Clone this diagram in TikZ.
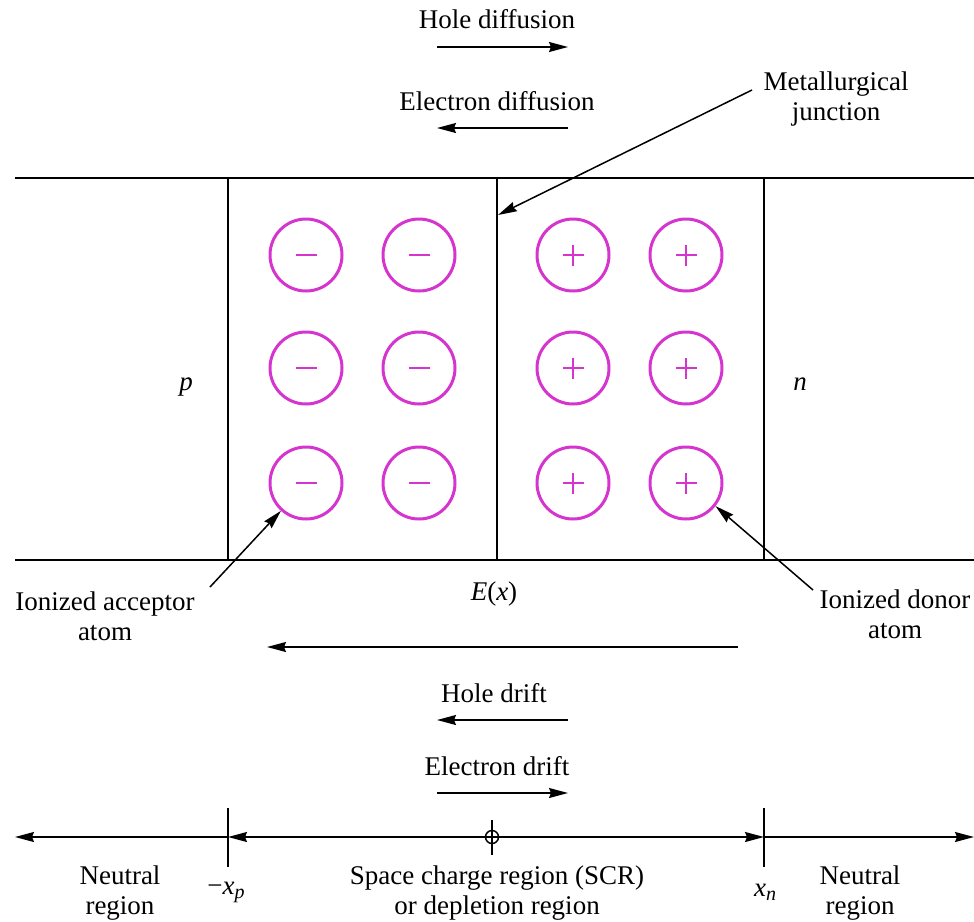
\documentclass[tikz,border=0pt]{standalone}
\usepackage{fontspec}
\setmainfont{Liberation Serif}
\usetikzlibrary{arrows.meta}
\definecolor{mag}{RGB}{214,52,206}
\newcommand{\subit}[1]{\raisebox{-0.35ex}{\fontsize{20}{20}\selectfont\itshape #1}}
\begin{document}
\begin{tikzpicture}[x=1pt,y=-1pt,
  txt/.style={inner sep=0pt,anchor=base,font=\fontsize{27}{29.5}\selectfont},
  ln/.style={line width=1.5pt},
  arr/.style={ln,-{Stealth[length=19pt,width=10pt,inset=2pt]}},
  ion/.style={circle,draw=mag,line width=3pt,minimum size=72pt,inner sep=0pt},
  sgn/.style={draw=mag,line width=1.8pt}]
\useasboundingbox (0,0) rectangle (974,921);
% slab
\draw[ln] (15,178) -- (974,178);
\draw[ln] (15,560) -- (974,560);
\draw[ln] (228,178) -- (228,560);
\draw[ln] (497,178) -- (497,560);
\draw[ln] (764,178) -- (764,560);
% ions
\foreach \r/\y in {1/255,2/368,3/483}{
  \node[ion] (c\r1) at (306,\y) {};
  \node[ion] (c\r2) at (419,\y) {};
  \node[ion] (c\r3) at (573,\y) {};
  \node[ion] (c\r4) at (686,\y) {};
  \foreach \c in {1,2,3,4}{
    \draw[sgn] ([xshift=-10.5pt]c\r\c.center) -- ([xshift=10.5pt]c\r\c.center);
  }
  \foreach \c in {3,4}{
    \draw[sgn] ([yshift=-10.5pt]c\r\c.center) -- ([yshift=10.5pt]c\r\c.center);
  }
}
% top labels
\node[txt] (hd) at (497,28) {Hole diffusion};
\coordinate (hda) at (437,47); \coordinate (hdb) at (568,47);
\draw[arr] (hda) -- (hdb);
\node[txt] (ed) at (497,110) {Electron diffusion};
\coordinate (eda) at (568,128); \coordinate (edb) at (437,128);
\draw[arr] (eda) -- (edb);
\node[txt,align=center] (mj) at (836,120) {Metallurgical\\junction};
\coordinate (mja) at (752,90); \coordinate (mjb) at (498,215);
\draw[arr] (mja) -- (mjb);
\node[txt,font=\fontsize{27}{29.5}\selectfont\itshape] (p) at (186,390) {p};
\node[txt,font=\fontsize{27}{29.5}\selectfont\itshape] (n) at (800,390) {n};
% ion labels
\node[txt,align=center] (acc) at (105,640) {Ionized acceptor\\atom};
\coordinate (acca) at (210,587);
\draw[arr] (acca) -- (c31.228);
\node[txt,align=center] (don) at (895,638) {Ionized donor\\atom};
\coordinate (dona) at (813,590);
\draw[arr] (dona) -- (c34.-38);
% field and drift
\node[txt] (ex) at (494,600) {\textit{E}(\textit{x})};
\coordinate (exa) at (738,647); \coordinate (exb) at (267,647);
\draw[arr] (exa) -- (exb);
\node[txt] (hdr) at (494,702) {Hole drift};
\coordinate (hdra) at (568,720); \coordinate (hdrb) at (437,720);
\draw[arr] (hdra) -- (hdrb);
\node[txt] (edr) at (497,775) {Electron drift};
\coordinate (edra) at (437,793); \coordinate (edrb) at (568,793);
\draw[arr] (edra) -- (edrb);
% bottom axis
\coordinate (xl) at (15,837); \coordinate (xp) at (228,837);
\coordinate (x0) at (492,837); \coordinate (xn) at (764,837);
\coordinate (xr) at (974,837);
\draw[arr] (xp) -- (xl);
\draw[arr] (x0) -- (xp);
\draw[arr] (x0) -- (xn);
\draw[arr] (xn) -- (xr);
\draw[ln] (228,808) -- (228,867);
\draw[ln] (764,808) -- (764,867);
\draw[ln] (492,820) -- (492,855);
\draw[ln,fill=white] (x0) circle (6.5pt);
\draw[ln] (485.5,837) -- (498.5,837);
\draw[ln] (492,830.5) -- (492,843.5);
\node[txt,align=center] (nl) at (120,914) {Neutral\\region};
\node[txt,align=center] (scr) at (497,914) {Space charge region (SCR)\\or depletion region};
\node[txt,align=center] (nr) at (860,914) {Neutral\\region};
\node[txt] (lxp) at (226,894) {−\textit{x}\subit{p}};
\node[txt] (lxn) at (765,896) {\textit{x}\subit{n}};
\end{tikzpicture}
\end{document}
